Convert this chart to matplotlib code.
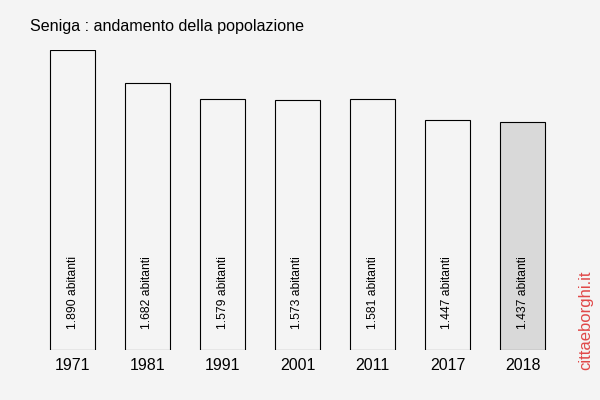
import matplotlib
matplotlib.use("Agg")
import matplotlib.pyplot as plt

years = ["1971", "1981", "1991", "2001", "2011", "2017", "2018"]
population = [1890, 1682, 1579, 1573, 1581, 1447, 1437]
labels = ["1.890 abitanti", "1.682 abitanti", "1.579 abitanti", "1.573 abitanti",
          "1.581 abitanti", "1.447 abitanti", "1.437 abitanti"]

plt.rcParams['font.family'] = ['Liberation Sans', 'DejaVu Sans']
bg = "#f4f4f4"
fig = plt.figure(figsize=(6, 4), dpi=100, facecolor=bg)
ax = fig.add_axes([35/600, 50/400, 525/600, 300/400])
ax.set_facecolor(bg)
colors = [bg] * (len(years) - 1) + ["#d9d9d9"]
x = list(range(len(years)))
ax.bar(x, population, width=0.6, color=colors, edgecolor="black", linewidth=0.8)
ax.set_xlim(-0.5, len(years) - 0.5)
ax.set_ylim(0, max(population))
for s in ax.spines.values():
    s.set_visible(False)
ax.set_yticks([])
ax.set_xticks(x)
ax.set_xticklabels(years, fontsize=11.5)
ax.tick_params(axis='x', length=0, pad=6)
for xi, lab in zip(x, labels):
    ax.text(xi, 1890 * 21 / 300, lab, rotation=90, ha='center', va='bottom', fontsize=8.7)
fig.text(30/600, 1 - 31/400, "Seniga : andamento della popolazione", fontsize=11.6, va='baseline', ha='left')
fig.text(586/600, 1 - 320/400, "cittaeborghi.it", rotation=90, fontsize=12, color="#e04848", va='center', ha='center')
fig.savefig("out.png", dpi=100, facecolor=bg)
